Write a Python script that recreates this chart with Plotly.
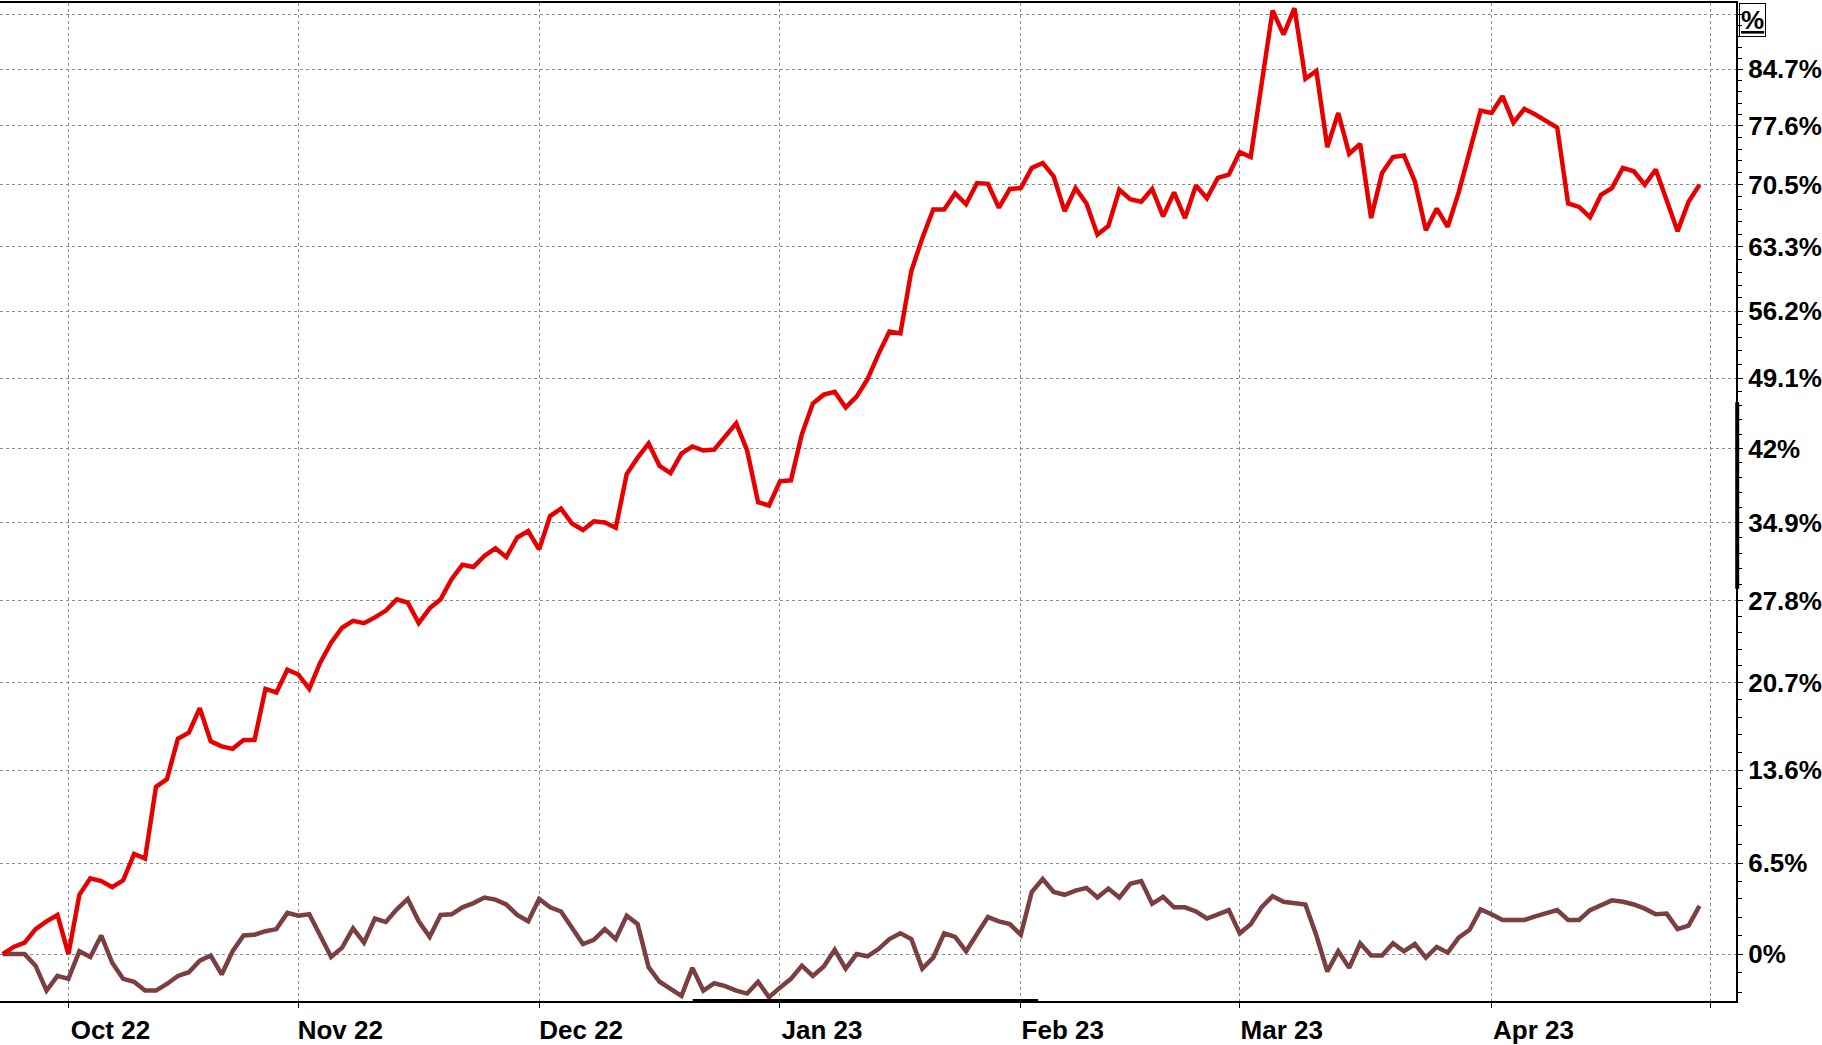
import math
import pandas as pd
import plotly.graph_objects as go

# ---------------- data (percent change since start) ----------------
start_date = "2022-09-23"
end_date = "2023-04-28"

stock_pct = [
    0.0, 0.5, 0.8, 1.75, 2.3, 2.75,
    0.0, 4.2, 5.4, 5.2, 4.75, 5.25, 7.2, 6.85, 12.3, 12.9, 16.1, 16.6, 18.6, 15.9, 15.5, 15.3, 16.0, 16.0, 20.2, 19.9, 21.8,
    21.4, 20.2, 22.4, 24.1, 25.4, 26.0, 25.8, 26.3, 26.9, 27.9, 27.6, 25.8, 27.1, 27.9, 29.7, 31.0, 30.8, 31.8, 32.5, 31.7, 33.5, 34.1,
    32.4, 35.5, 36.2, 34.8, 34.2, 35.0, 34.9, 34.4, 39.5, 41.1, 42.5, 40.3, 39.6, 41.5, 42.2, 41.8, 41.9, 43.2, 44.5, 41.8, 36.8, 36.5,
    38.8, 38.9, 43.4, 46.5, 47.4, 47.7, 46.1, 47.2, 49.0, 51.6, 54.0, 53.8, 60.6, 64.3, 67.6, 67.6, 69.5, 68.2, 70.7, 70.6, 67.8, 70.0,
    70.1, 72.5, 73.1, 71.5, 67.4, 70.1, 68.3, 64.7, 65.7, 69.9, 68.8, 68.5, 70.0, 66.8, 69.6, 66.6, 70.4, 68.9, 71.3, 71.7,
    74.4, 73.8, 83.0, 92.4, 89.2, 92.7, 83.5, 84.5, 75.0, 79.2, 74.2, 75.4, 66.6, 71.9, 73.8, 74.0, 70.9, 65.2, 67.7, 65.6, 69.6, 74.4, 79.5,
    79.2, 81.3, 78.0, 79.7, 79.0, 78.2, 77.4, 68.3, 67.9, 66.7, 69.3, 70.1, 72.5, 72.1, 70.5, 72.3, 68.7, 65.1, 68.5, 70.5,
]

index_pct = [
    0.0, 0.0, 0.0, -0.8, -2.5, -1.5,
    -1.7, 0.2, -0.2, 1.3, -0.6, -1.7, -1.9, -2.5, -2.5, -2.05, -1.5, -1.25, -0.45, -0.1, -1.4, 0.2, 1.3, 1.35, 1.6, 1.75, 2.9,
    2.7, 2.8, 1.3, -0.2, 0.45, 1.8, 0.8, 2.5, 2.25, 3.15, 3.9, 2.3, 1.2, 2.75, 2.8, 3.3, 3.6, 4.0, 3.85, 3.5, 2.75, 2.3,
    3.9, 3.3, 3.0, 1.8, 0.7, 1.0, 1.75, 1.05, 2.7, 2.1, -0.9, -1.9, -2.4, -2.85, -0.95, -2.5, -2.0, -2.2, -2.5, -2.7, -1.9, -2.95,
    -2.3, -1.7, -0.8, -1.5, -0.85, 0.3, -1.0, 0.0, -0.15, 0.35, 1.05, 1.45, 1.05, -1.0, -0.25, 1.45, 1.2, 0.2, 1.4, 2.6, 2.3, 2.1,
    1.35, 4.4, 5.35, 4.4, 4.2, 4.5, 4.7, 4.0, 4.65, 4.0, 5.0, 5.2, 3.55, 4.05, 3.3, 3.3, 3.0, 2.5, 2.8, 3.1,
    1.45, 2.1, 3.3, 4.1, 3.7, 3.6, 3.5, 1.3, -1.2, 0.2, -0.95, 0.75, -0.1, -0.1, 0.75, 0.2, 0.7, -0.25, 0.5, 0.1, 1.15, 1.7, 3.15,
    2.8, 2.4, 2.4, 2.4, 2.65, 2.9, 3.1, 2.4, 2.4, 3.1, 3.45, 3.8, 3.7, 3.5, 3.2, 2.8, 2.85, 1.75, 2.0, 3.4,
]

month_ticks = ["2022-10-03", "2022-11-01", "2022-12-01", "2023-01-02",
               "2023-02-01", "2023-03-01", "2023-04-03", "2023-05-01"]
month_labels = ["Oct 22", "Nov 22", "Dec 22", "Jan 23", "Feb 23", "Mar 23", "Apr 23", ""]

pct_ticks = [0, 6.5, 13.6, 20.7, 27.8, 34.9, 42.0, 49.1, 56.2, 63.3, 70.5, 77.6, 84.7, 91.8]
pct_labels = ["0%", "6.5%", "13.6%", "20.7%", "27.8%", "34.9%", "42%", "49.1%",
              "56.2%", "63.3%", "70.5%", "77.6%", "84.7%", ""]

x_range = ["2022-09-22 18:00", "2023-05-03 08:00"]
pct_range = [-3.2, 93.4]

# ---------------- build ----------------
dates = pd.bdate_range(start_date, end_date)
assert len(dates) == len(stock_pct) == len(index_pct)

to_ratio = lambda p: 1 + p / 100.0

minor_pct = []
for a, b in zip(pct_ticks[:-1], pct_ticks[1:]):
    minor_pct += [a + (b - a) * i / 5 for i in range(1, 5)]
step0 = (pct_ticks[1] - pct_ticks[0]) / 5
minor_pct += [-step0, -2 * step0]

y_range = [math.log10(to_ratio(pct_range[0])), math.log10(to_ratio(pct_range[1]))]

GRID = "#8c8c8c"
FONT = "Liberation Sans, Arial, sans-serif"

fig = go.Figure()
fig.add_trace(go.Scatter(
    x=dates, y=[to_ratio(v) for v in index_pct], mode="lines", name="Index",
    line=dict(color="#7B3F40", width=4.5), hoverinfo="x+text",
    text=[f"{v:.1f}%" for v in index_pct]))
fig.add_trace(go.Scatter(
    x=dates, y=[to_ratio(v) for v in stock_pct], mode="lines", name="Stock",
    line=dict(color="#E80000", width=4.5), hoverinfo="x+text",
    text=[f"{v:.1f}%" for v in stock_pct]))

fig.update_layout(
    width=1822, height=1045,
    margin=dict(l=0, r=84, t=3, b=38),
    plot_bgcolor="white", paper_bgcolor="white",
    showlegend=False,
    font=dict(family=FONT, size=26, color="black"),
    xaxis=dict(
        type="date", range=x_range,
        rangebreaks=[dict(bounds=["sat", "mon"])],
        tickmode="array", tickvals=month_ticks, ticktext=month_labels,
        ticks="outside", ticklen=5, tickcolor="black", tickwidth=1,
        tickfont=dict(family=FONT, size=26, color="black", weight="bold"),
        ticklabelshift=42,
        showline=True, linecolor="black", linewidth=2, mirror=True,
        showgrid=True, gridcolor=GRID, gridwidth=1, griddash="3px,3px",
        zeroline=False,
    ),
    yaxis=dict(
        type="log", side="right", range=y_range,
        tickmode="array", tickvals=[to_ratio(v) for v in pct_ticks], ticktext=pct_labels,
        ticks="outside", ticklen=5, tickcolor="black", tickwidth=1,
        tickfont=dict(family=FONT, size=26, color="black", weight="bold"),
        showline=True, linecolor="black", linewidth=2, mirror=False,
        showgrid=True, gridcolor=GRID, gridwidth=1, griddash="3px,3px",
        zeroline=False,
        minor=dict(tickmode="array", tickvals=[to_ratio(v) for v in minor_pct],
                   ticks="outside", ticklen=4, tickcolor="black", showgrid=False),
    ),
    annotations=[dict(
        text="<u>%</u>", xref="paper", yref="paper", x=1, y=1,
        xanchor="left", yanchor="top", xshift=3, showarrow=False,
        bordercolor="black", borderwidth=1, borderpad=1,
        font=dict(family=FONT, size=26, color="black", weight="bold"),
    )],
    shapes=[
        dict(type="line", xref="paper", yref="paper", x0=0.399, x1=0.598, y0=0, y1=0,
             line=dict(color="black", width=4)),
        dict(type="line", xref="paper", yref="paper", x0=1.0007, x1=1.0007, y0=0.413, y1=0.600,
             line=dict(color="black", width=4)),
    ],
)

fig.write_html("out.html", config={"displayModeBar": False},
               post_script="document.body.style.margin='0';document.body.style.overflow='hidden';")
